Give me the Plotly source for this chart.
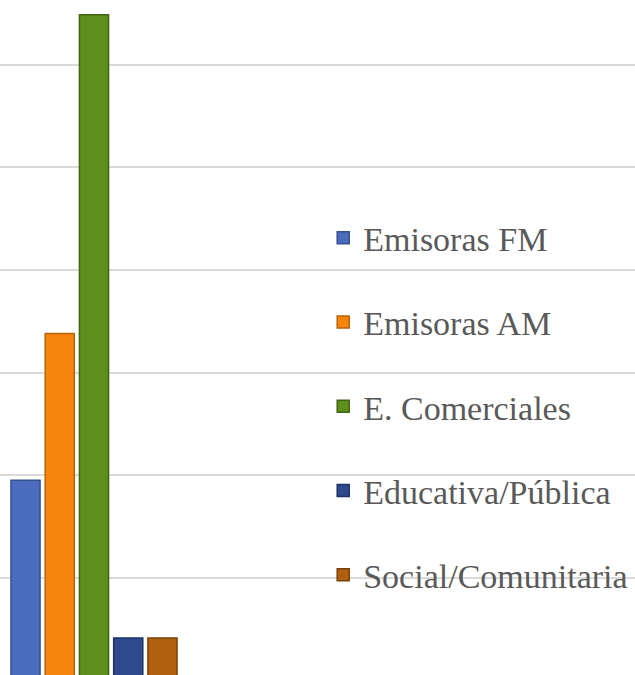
import plotly.graph_objects as go

# data (value unit = one gridline step of 100)
series = ["Emisoras FM", "Emisoras AM", "E. Comerciales", "Educativa/Pública", "Social/Comunitaria"]
values = [195, 338, 649, 41, 41]
colors = ["#4a6cbd", "#f5850c", "#5e8f1c", "#2e4a8c", "#b0600e"]
edge_colors = ["#34508f", "#b8620a", "#3f6512", "#1d3166", "#7a4109"]

fig = go.Figure()

for i, (name, val) in enumerate(zip(series, values)):
    fig.add_trace(go.Bar(
        name=name,
        x=[i],
        y=[val],
        width=0.85,
        marker=dict(color=colors[i], line=dict(color=edge_colors[i], width=1.5)),
        legendgroup=name,
    ))

fig.update_layout(
    width=635,
    height=675,
    margin=dict(l=0, r=0, t=0, b=0),
    paper_bgcolor="white",
    plot_bgcolor="white",
    barmode="overlay",
    showlegend=True,
    legend=dict(
        x=0.509, y=0.69, xanchor="left", yanchor="top",
        font=dict(family="Liberation Serif, DejaVu Serif, serif", size=34, color="#595959"),
        bgcolor="rgba(0,0,0,0)",
        tracegroupgap=37,
        itemwidth=30,
    ),
    xaxis=dict(range=[-0.745, 17.8], visible=False, fixedrange=True),
    yaxis=dict(
        range=[4.9, 663.4], dtick=100, showgrid=True, gridcolor="#d9d9d9", gridwidth=1.5,
        showticklabels=False, zeroline=False, showline=False, ticks="",
    ),
)

# page body has an 8px default margin; drop it so the chart sits at the window edge
fig.write_html("out.html", config={"displayModeBar": False},
               post_script="document.body.style.margin='0';")
